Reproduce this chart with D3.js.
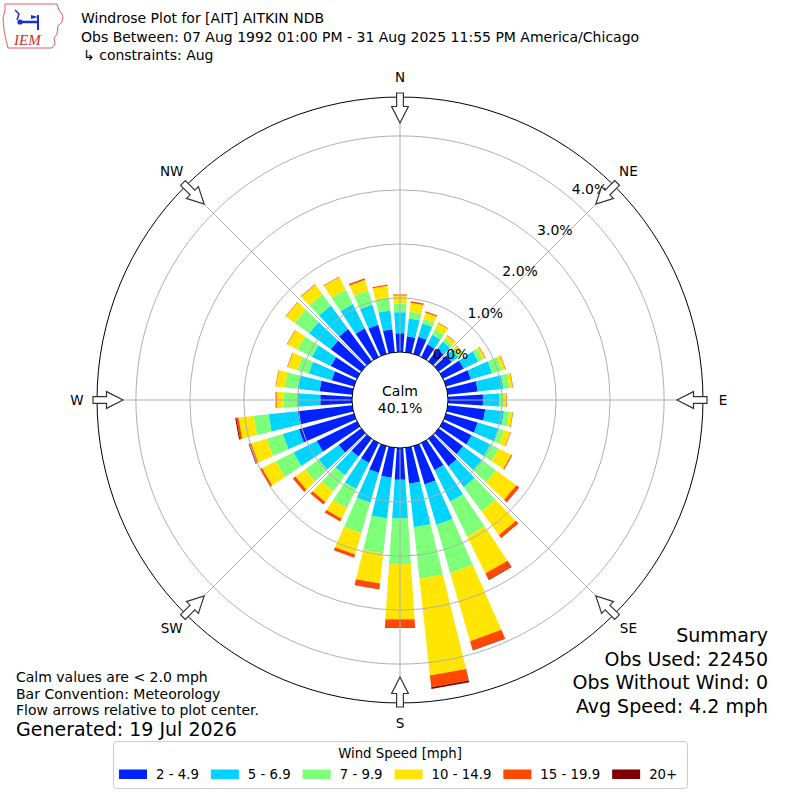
<!DOCTYPE html>
<html>
<head>
<meta charset="utf-8">
<script src="https://cdn.jsdelivr.net/npm/d3@7"></script>
<style>
  html, body { margin: 0; padding: 0; background: #fff; }
  svg { display: block; font-family: "DejaVu Sans", sans-serif; }
</style>
</head>
<body>
<svg id="chart" width="800" height="800"></svg>
<script>
// wind directions (deg, meteorological "from")
const directions = [0, 10, 20, 30, 40, 50, 60, 70, 80, 90, 100, 110,
  120, 130, 140, 150, 160, 170, 180, 190, 200, 210, 220, 230,
  240, 250, 260, 270, 280, 290, 300, 310, 320, 330, 340, 350];

const speedBins = ["2 - 4.9", "5 - 6.9", "7 - 9.9", "10 - 14.9", "15 - 19.9", "20+"];
const binColors = ["#0022ff", "#00d4ff", "#7dff7a", "#ffe500", "#ff4800", "#7f0000"];

// frequency (%) per direction for each speed bin
const pct2to5 = [0.35, 0.30, 0.33, 0.26, 0.28, 0.30, 0.43, 0.48, 0.56, 0.65, 0.70, 0.61,
  0.59, 0.56, 0.63, 0.56, 0.74, 0.67, 0.59, 0.56, 0.52, 0.41, 0.41, 0.52,
  0.83, 1.06, 1.02, 0.59, 0.61, 0.43, 0.54, 0.70, 0.74, 0.59, 0.56, 0.43];
const pct5to7 = [0.39, 0.33, 0.26, 0.20, 0.17, 0.15, 0.30, 0.41, 0.48, 0.31, 0.35, 0.41,
  0.39, 0.43, 0.48, 0.65, 0.78, 0.81, 0.72, 0.76, 0.57, 0.54, 0.43, 0.46,
  0.48, 0.31, 0.54, 0.43, 0.41, 0.44, 0.39, 0.50, 0.54, 0.50, 0.39, 0.35];
const pct7to10 = [0.16, 0.13, 0.09, 0.11, 0.07, 0.06, 0.09, 0.19, 0.11, 0.08, 0.10, 0.10,
  0.17, 0.33, 0.56, 0.72, 0.93, 0.96, 0.85, 0.65, 0.59, 0.39, 0.37, 0.31,
  0.37, 0.31, 0.28, 0.25, 0.24, 0.22, 0.30, 0.33, 0.26, 0.30, 0.27, 0.24];
const pct10to15 = [0.15, 0.16, 0.12, 0.13, 0.07, 0.05, 0.05, 0.06, 0.06, 0.04, 0.06, 0.12,
  0.26, 0.46, 0.54, 0.76, 1.31, 1.80, 1.02, 0.56, 0.41, 0.22, 0.24, 0.22,
  0.28, 0.30, 0.28, 0.13, 0.16, 0.19, 0.21, 0.20, 0.22, 0.26, 0.21, 0.22];
const pct15to20 = [0.02, 0.03, 0.02, 0.01, 0.01, 0.01, 0.01, 0.01, 0.01, 0.01, 0.01, 0.01,
  0.02, 0.07, 0.07, 0.13, 0.17, 0.22, 0.15, 0.11, 0.06, 0.06, 0.06, 0.06,
  0.04, 0.04, 0.04, 0.02, 0.01, 0.01, 0.01, 0.01, 0.01, 0.01, 0.03, 0.02];
const pct20up = [0, 0, 0, 0, 0, 0, 0, 0, 0, 0, 0, 0,
  0, 0, 0, 0.01, 0.01, 0.03, 0.01, 0, 0, 0, 0, 0,
  0, 0.01, 0.02, 0, 0, 0, 0, 0, 0, 0, 0, 0];

const calmPct = 40.1;
const ringTicks = [0, 1, 2, 3, 4];
const compass = [["N", 0], ["NE", 45], ["E", 90], ["SE", 135], ["S", 180], ["SW", 225], ["W", 270], ["NW", 315]];

const titleLines = ["Windrose Plot for [AIT] AITKIN NDB",
  "Obs Between: 07 Aug 1992 01:00 PM - 31 Aug 2025 11:55 PM America/Chicago",
  "\u21b3 constraints: Aug"];
const noteLines = ["Calm values are < 2.0 mph", "Bar Convention: Meteorology", "Flow arrows relative to plot center."];
const generatedText = "Generated: 19 Jul 2026";
const summaryLines = ["Summary", "Obs Used: 22450", "Obs Without Wind: 0", "Avg Speed: 4.2 mph"];

const svg = d3.select("#chart");
const cx = 400, cy = 400;
const opening = 7.6;

const r = d3.scaleLinear().domain([0, 4.72]).range([48, 303]);
const ang = d3.scaleLinear().domain([0, 360]).range([0, 2 * Math.PI]);

function pt(deg, rad) {
  const a = ang(deg);
  return [cx + rad * Math.sin(a), cy - rad * Math.cos(a)];
}

// stacked table
const keys = ["b0", "b1", "b2", "b3", "b4", "b5"];
const series = [pct2to5, pct5to7, pct7to10, pct10to15, pct15to20, pct20up];
const rows = directions.map((d, i) => {
  const o = {dir: d};
  keys.forEach((k, j) => o[k] = series[j][i]);
  return o;
});
const stacked = d3.stack().keys(keys)(rows);

// bars
const barG = svg.append("g");
barG.selectAll("g.layer")
  .data(stacked)
  .enter().append("g")
  .attr("class", "layer")
  .attr("fill", (d, i) => binColors[i])
  .selectAll("path")
  .data(d => d.filter(s => s[1] - s[0] > 0))
  .enter().append("path")
  .attr("d", s => {
    const dir = s.data.dir;
    const r0 = r(s[0]), r1 = r(s[1]);
    return d3.line()([
      pt(dir - opening / 2, r0), pt(dir + opening / 2, r0),
      pt(dir + opening / 2, r1), pt(dir - opening / 2, r1)
    ]) + "Z";
  });

// grid
const gridG = svg.append("g").attr("fill", "none");
gridG.selectAll("circle.ring")
  .data(ringTicks.slice(1))
  .enter().append("circle")
  .attr("cx", cx).attr("cy", cy)
  .attr("r", d => r(d))
  .attr("stroke", "#b0b0b0").attr("stroke-width", 1);
gridG.selectAll("line.spoke")
  .data(compass)
  .enter().append("line")
  .attr("x1", d => pt(d[1], r(0))[0]).attr("y1", d => pt(d[1], r(0))[1])
  .attr("x2", d => pt(d[1], r.range()[1])[0]).attr("y2", d => pt(d[1], r.range()[1])[1])
  .attr("stroke", "#b0b0b0").attr("stroke-width", 1);
gridG.append("circle")
  .attr("cx", cx).attr("cy", cy).attr("r", r.range()[1])
  .attr("stroke", "#000").attr("stroke-width", 1);

// calm circle
svg.append("circle")
  .attr("cx", cx).attr("cy", cy).attr("r", r(0))
  .attr("fill", "#fff").attr("stroke", "#000").attr("stroke-width", 1);
svg.append("text").attr("x", cx).attr("y", cy - 4)
  .attr("text-anchor", "middle").attr("font-size", 14).text("Calm");
svg.append("text").attr("x", cx).attr("y", cy + 13)
  .attr("text-anchor", "middle").attr("font-size", 14).text(calmPct.toFixed(1) + "%");

// radial labels
const fmt = d3.format(".1f");
svg.selectAll("text.rlab")
  .data(ringTicks)
  .enter().append("text")
  .attr("x", d => pt(40, r(d))[0] + 2)
  .attr("y", d => pt(40, r(d))[1] - 4)
  .attr("font-size", 14)
  .text(d => fmt(d) + "%");

// compass labels
svg.selectAll("text.comp")
  .data(compass)
  .enter().append("text")
  .attr("x", d => pt(d[1], 323)[0])
  .attr("y", d => pt(d[1], 323)[1])
  .attr("dy", "0.35em")
  .attr("text-anchor", "middle")
  .attr("font-size", 13.5)
  .text(d => d[0]);

// flow arrows (pointing to the centre)
const arrowPts = [[-3.4, -307], [3.4, -307], [3.4, -293.5], [8.4, -293.5], [0, -277], [-8.4, -293.5], [-3.4, -293.5]];
svg.selectAll("path.arrow")
  .data(compass)
  .enter().append("path")
  .attr("transform", d => `translate(${cx},${cy}) rotate(${d[1]})`)
  .attr("d", d3.line()(arrowPts) + "Z")
  .attr("fill", "#fff").attr("stroke", "#333").attr("stroke-width", 1.2);

// header
svg.selectAll("text.title")
  .data(titleLines)
  .enter().append("text")
  .attr("x", (d, i) => i == 2 ? 83 : 81)
  .attr("y", (d, i) => 23 + i * 18.5)
  .attr("font-size", 14)
  .text(d => d);

// IEM logo
const logo = svg.append("g");
logo.append("path")
  .attr("d", "M5,4 L57,4 L59,10 L63,16 L62,22 L58,26 L57,34 L54,38 L55,44 L52,48 L8,48 L6,40 L4,30 L3,18 L5,10 Z")
  .attr("fill", "#fff").attr("stroke", "#e06060").attr("stroke-width", 1);
logo.append("line").attr("x1", 20).attr("y1", 22).attr("x2", 38).attr("y2", 22)
  .attr("stroke", "#1a2fd0").attr("stroke-width", 2.5);
logo.append("circle").attr("cx", 20).attr("cy", 22).attr("r", 2.6).attr("fill", "#1a2fd0");
logo.append("line").attr("x1", 38).attr("y1", 15).attr("x2", 38).attr("y2", 30)
  .attr("stroke", "#1a2fd0").attr("stroke-width", 2);
logo.append("path").attr("d", "M31,15 L38,17 L31,19 Z").attr("fill", "#1a2fd0");
logo.append("path").attr("d", "M15,10 L19,14 L17,20").attr("fill", "none")
  .attr("stroke", "#1a2fd0").attr("stroke-width", 1.5);
logo.append("text").attr("x", 14).attr("y", 45)
  .attr("font-family", "Liberation Serif, DejaVu Serif, serif")
  .attr("font-style", "italic").attr("font-size", 15)
  .attr("fill", "#d03030").text("IEM");

// notes bottom left
svg.selectAll("text.note")
  .data(noteLines)
  .enter().append("text")
  .attr("x", 16)
  .attr("y", (d, i) => 682 + i * 16.5)
  .attr("font-size", 14)
  .text(d => d);
svg.append("text").attr("x", 16).attr("y", 736)
  .attr("font-size", 19).text(generatedText);

// summary bottom right
svg.selectAll("text.summary")
  .data(summaryLines)
  .enter().append("text")
  .attr("x", 768)
  .attr("y", (d, i) => 642 + i * 23.5)
  .attr("text-anchor", "end")
  .attr("font-size", 19)
  .text(d => d);

// legend
const leg = svg.append("g");
leg.append("rect")
  .attr("x", 113.5).attr("y", 741.5).attr("width", 574).attr("height", 47)
  .attr("rx", 3).attr("fill", "#fff").attr("stroke", "#cccccc");
leg.append("text").attr("x", 400).attr("y", 758)
  .attr("text-anchor", "middle").attr("font-size", 13.3).text("Wind Speed [mph]");
let lx = 119;
speedBins.forEach((b, i) => {
  leg.append("rect").attr("x", lx).attr("y", 769.5).attr("width", 28).attr("height", 9.5)
    .attr("fill", binColors[i]);
  const t = leg.append("text").attr("x", lx + 37).attr("y", 779)
    .attr("font-size", 13.3).text(b);
  lx += 37 + t.node().getComputedTextLength() + 12;
});
</script>
</body>
</html>
